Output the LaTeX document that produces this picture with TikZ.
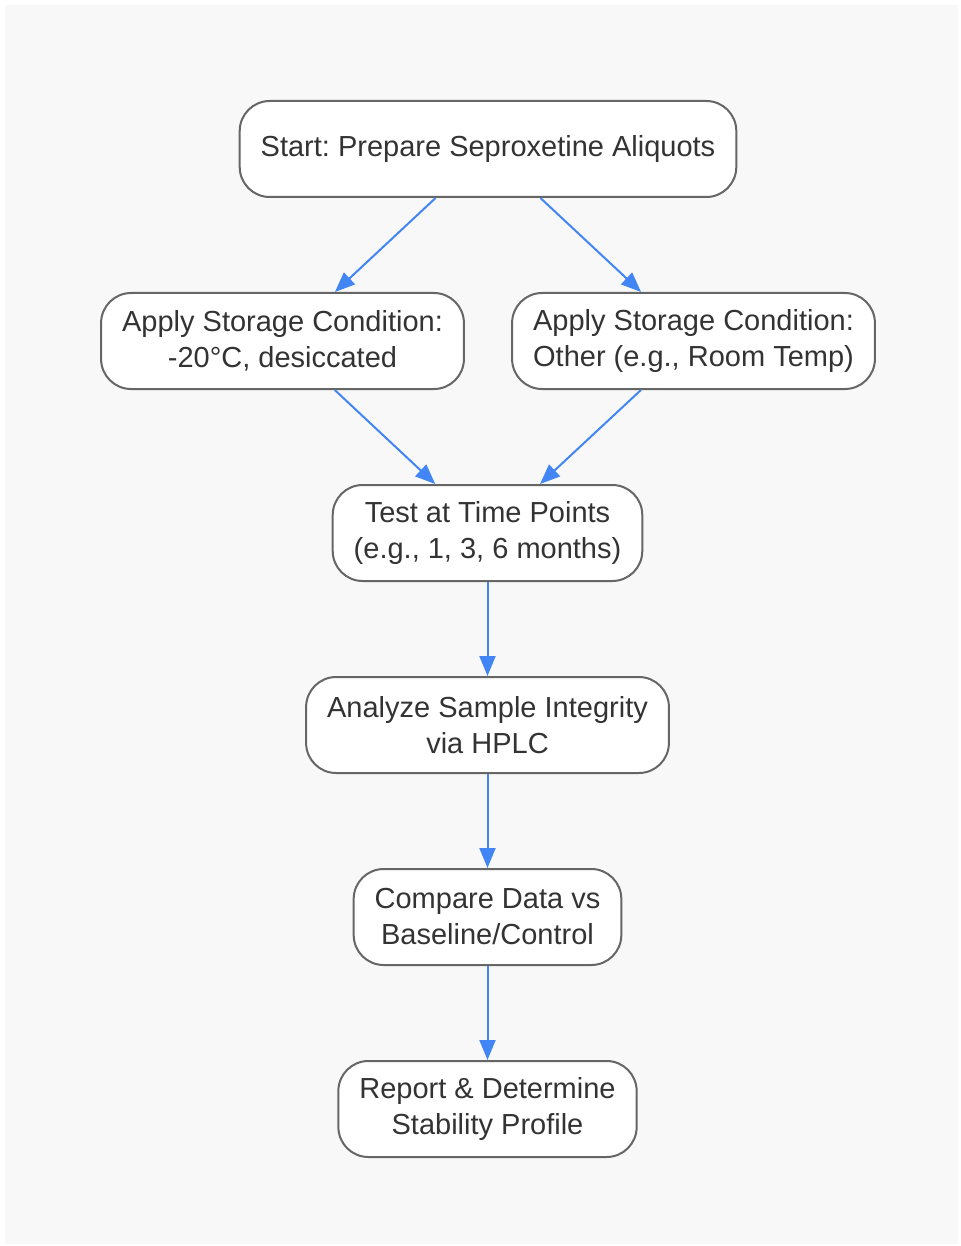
\documentclass[tikz,border=0pt]{standalone}
\usepackage{fontspec}
\setmainfont{Liberation Sans}
\frenchspacing
\usepackage{tikz}
\usetikzlibrary{positioning}
\usetikzlibrary{%
  calc,%
  arrows.meta%
}
\definecolor{bgfill}{HTML}{F8F8F8}
\definecolor{boxline}{HTML}{666666}
\definecolor{txtgray}{HTML}{333333}
\definecolor{flowblue}{HTML}{4285F4}

\begin{document}
\begin{tikzpicture}[x=1pt, y=-1pt,
  stepbox/.style={draw=boxline, line width=2pt, fill=white, rounded corners=30pt,
    minimum height=96pt, inner xsep=21pt, align=center, text=txtgray,
    font=\fontsize{29}{36}\selectfont},
  flow/.style={draw=flowblue, line width=2pt, -{Triangle[length=20pt,width=16pt]}}]
\useasboundingbox (0,0) rectangle (960,1246);
\fill[bgfill] (5,5) rectangle (958,1244);

\node[stepbox] (start) at (488,149) {Start: Prepare Seproxetine Aliquots};
\node[stepbox] (cold) at (282.5,341) {Apply Storage Condition:\\-20°C, desiccated};
\node[stepbox] (other) at (693.5,341) {Apply Storage Condition:\\Other (e.g., Room Temp)};
\node[stepbox] (test) at (487.5,533) {Test at Time Points\\(e.g., 1, 3, 6 months)};
\node[stepbox] (hplc) at (487.5,725) {Analyze Sample Integrity\\via HPLC};
\node[stepbox] (compare) at (487.5,917) {Compare Data vs\\Baseline/Control};
\node[stepbox] (report) at (487.5,1109) {Report \& Determine\\Stability Profile};

\draw
	(start) edge[flow] (cold)
	(start) edge[flow] (other)
	(cold) edge[flow] (test)
	(other) edge[flow] (test)
	(test) edge[flow] (hplc)
	(hplc) edge[flow] (compare)
	(compare) edge[flow] (report)
;
\end{tikzpicture}
\end{document}
